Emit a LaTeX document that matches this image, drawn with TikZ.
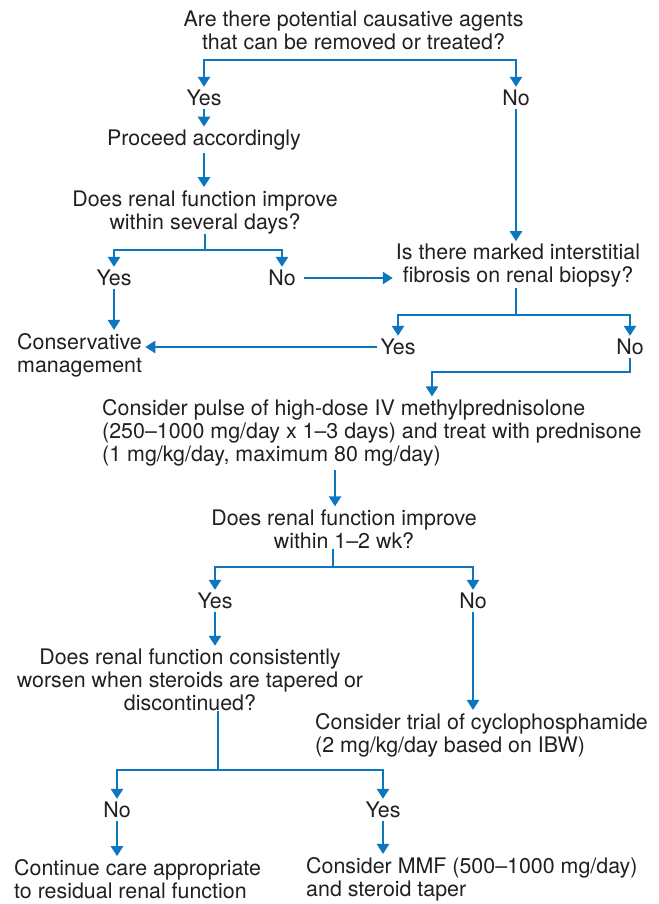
\documentclass[tikz,border=0pt]{standalone}
\usepackage{fontspec}
\setmainfont{TeX Gyre Heros}
\usetikzlibrary{arrows.meta}
\definecolor{flow}{HTML}{0C76C0}
\definecolor{ink}{HTML}{231F20}
\begin{document}
\begin{tikzpicture}[x=1pt,y=-1pt,
  lbl/.style={font=\fontsize{21.4}{23}\selectfont, text=ink, inner sep=0pt, align=center},
  lbll/.style={lbl, align=left, anchor=west},
  ln/.style={draw=flow, line width=2.6pt},
  tip/.style={ln, -{Triangle[width=12pt,length=10pt]}, shorten >=3pt},
  arr/.style={tip, shorten <=3pt}]
\useasboundingbox (0,0) rectangle (658,904);

% question and answer nodes
\node[lbl] (q1) at (353.5,30) {Are there potential causative agents\\that can be removed or treated?};
\node[lbl] (y1) at (204,98) {Yes};
\node[lbl] (n1) at (516,98) {No};
\node[lbl] (p1) at (204,140) {Proceed accordingly};
\node[lbl] (q2) at (205,212) {Does renal function improve\\within several days?};
\node[lbl] (y2) at (114,278) {Yes};
\node[lbl] (n2) at (282,278) {No};
\node[lbll] (cons) at (17,355) {Conservative\\management};
\node[lbl] (q4) at (518,266) {Is there marked interstitial\\fibrosis on renal biopsy?};
\node[lbl] (y4) at (398,347) {Yes};
\node[lbl] (n4) at (630,347) {No};
\node[lbll] (q5) at (102,433) {Consider pulse of high-dose IV methylprednisolone\\(250–1000 mg/day x 1–3 days) and treat with prednisone\\(1 mg/kg/day, maximum 80 mg/day)};
\node[lbl] (q6) at (344,529) {Does renal function improve\\within 1–2 wk?};
\node[lbl] (y6) at (215,601) {Yes};
\node[lbl] (n6) at (473,601) {No};
\node[lbl] (q7) at (190,680) {Does renal function consistently\\worsen when steroids are tapered or\\discontinued?};
\node[lbll] (q8) at (315,735) {Consider trial of cyclophosphamide\\(2 mg/kg/day based on IBW)};
\node[lbl] (n7) at (117,810) {No};
\node[lbl] (y7) at (383,810) {Yes};
\node[lbll] (c1) at (14,879) {Continue care appropriate\\to residual renal function};
\node[lbll] (c2) at (306,879) {Consider MMF (500–1000 mg/day)\\and steroid taper};

% branch points
\coordinate (j1) at (358,60);
\coordinate (j2) at (205,250);
\coordinate (j4) at (516,315);
\coordinate (j5) at (432,372);
\coordinate (a6) at (335,0);
\coordinate (j6) at (333,567);
\coordinate (j7) at (218,770);

% connectors
\draw[tip] (j1) -| (y1);
\draw[tip] (j1) -| (n1);
\draw[arr] (y1) -- (p1);
\draw[arr] (p1) -- (p1 |- q2.north);
\draw[arr] (n1) -- (n1 |- q4.north);

\draw[ln] (q2.south) -- (j2);
\draw[tip] (j2) -| (y2);
\draw[tip] (j2) -| (n2);
\draw[arr] (y2) -- (y2 |- cons.north);
\draw[arr, shorten <=8pt] (n2) -- (q4.west |- n2);

\draw[ln] (q4.south -| j4) -- (j4);
\draw[tip] (j4) -| (y4);
\draw[tip] (j4) -| (n4);
\draw[arr] (y4) -- (cons.east |- y4);
\draw[arr] (n4) |- (j5) -- (j5 |- q5.north);

\draw[arr] (q5.south -| a6) -- (q6.north -| a6);
\draw[ln] (q6.south -| j6) -- (j6);
\draw[tip] (j6) -| (y6);
\draw[tip] (j6) -| (n6);
\draw[arr] (y6) -- (y6 |- q7.north);
\draw[arr] (n6) -- (n6 |- q8.north);

\draw[ln] (q7.south -| j7) -- (j7);
\draw[tip] (j7) -| (n7);
\draw[tip] (j7) -| (y7);
\draw[arr] (n7) -- (n7 |- c1.north);
\draw[arr] (y7) -- (y7 |- c2.north);
\end{tikzpicture}
\end{document}
